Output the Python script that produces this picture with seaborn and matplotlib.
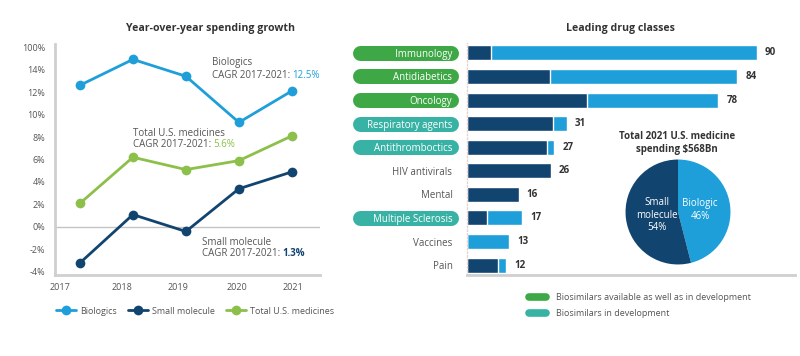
import numpy as np
import pandas as pd
import matplotlib
matplotlib.use('Agg')
import matplotlib.pyplot as plt
from matplotlib import transforms
from matplotlib.lines import Line2D
import seaborn as sns

# left panel: year-over-year spending growth (%)
years = [2017, 2018, 2019, 2020, 2021]
biologics = [12.6, 14.9, 13.4, 9.3, 12.1]
small_molecule = [-3.2, 1.1, -0.4, 3.4, 4.9]
total_medicines = [2.1, 6.2, 5.1, 5.9, 8.1]
series_names = ['Biologics', 'Small molecule', 'Total U.S. medicines']
ytick_values = [-4, -2, 0, 2, 4, 6, 8, 10, 12, 14, 16]
ytick_labels = ['-4%', '-2%', '0%', '2%', '4%', '6%', '8%', '10%', '12%', '14%', '100%']
cagr_values = ['12.5%', '1.3%', '5.6%']

# right panel: leading drug classes (US$ Bn)
drug_classes = ['Immunology', 'Antidiabetics', 'Oncology', 'Respiratory agents',
                'Antithromboctics', 'HIV antivirals', 'Mental', 'Multiple Sclerosis',
                'Vaccines', 'Pain']
class_totals = [90, 84, 78, 31, 27, 26, 16, 17, 13, 12]
class_small = [7.4, 25.8, 37.2, 26.6, 24.7, 26, 16, 6.1, 0, 9.7]
biosimilar_status = ['available', 'available', 'available', 'development', 'development',
                     None, None, 'development', None, None]
status_labels = {'available': 'Biosimilars available as well as in development',
                 'development': 'Biosimilars in development'}

# pie: total 2021 U.S. medicine spending
pie_names = ['Biologic', 'Small\nmolecule']
pie_shares = [46, 54]

LIGHT = '#1e9fd9'
DARK = '#124470'
LGREEN = '#8cc04a'
PILL = {'available': '#3ea846', 'development': '#37b2a4'}
AXIS = '#cfcfcf'
TEXT = '#555555'
TITLE = '#333333'


def main():
    sns.set_theme(style='white')
    plt.rcParams['font.family'] = ['Open Sans', 'DejaVu Sans']

    fig = plt.figure(figsize=(8, 3.56), dpi=100)
    growth_panel(fig)
    drug_panel(fig)
    pie_panel(fig)
    fig.savefig('out.png', dpi=100)


def px(x, y):
    """pixel position in the 800x356 picture -> figure fraction"""
    return x / 800, 1 - y / 356


def growth_panel(fig):
    ax = fig.add_axes([55 / 800, 1 - 275 / 356, 265 / 800, 231 / 356])
    df = pd.DataFrame({
        'year': years * 3,
        'growth': biologics + small_molecule + total_medicines,
        'series': np.repeat(series_names, len(years)),
    })
    palette = dict(zip(series_names, [LIGHT, DARK, LGREEN]))
    sns.lineplot(data=df, x='year', y='growth', hue='series', palette=palette,
                 marker='o', markersize=7, markeredgewidth=0, linewidth=2,
                 legend=False, ax=ax)
    ax.axhline(0, color='#c4c4c4', lw=1, zorder=0)

    ax.set_xlim(2016.53, 2021.53)
    ax.set_ylim(-4.27, 16.27)
    # the year labels sit a little left of the points in the original
    ax.set_xticks([2016.62, 2017.79, 2018.85, 2019.96, 2021.02])
    ax.set_xticklabels([str(y) for y in years])
    ax.set_yticks(ytick_values)
    ax.set_yticklabels(ytick_labels)
    ax.set_xlabel('')
    ax.set_ylabel('')
    ax.tick_params(length=0, labelsize=6.5, colors=TEXT)
    ax.tick_params(axis='y', pad=7)
    ax.tick_params(axis='x', pad=6)
    for side in ['top', 'right']:
        ax.spines[side].set_visible(False)
    for side in ['left', 'bottom']:
        ax.spines[side].set_color(AXIS)
        ax.spines[side].set_linewidth(2)

    # CAGR notes
    notes = [('Biologics', 2019.49, 14.65, 13.49, LIGHT, 'normal'),
             ('Small molecule', 2019.30, -1.41, -2.36, DARK, 'bold'),
             ('Total U.S. medicines', 2018.0, 8.34, 7.36, LGREEN, 'normal')]
    for (name, x, y1, y2, color, weight), value in zip(notes, cagr_values):
        ax.text(x, y1, name, fontsize=7, color=TEXT, va='center')
        t = ax.text(x, y2, 'CAGR 2017-2021: ', fontsize=7, color=TEXT, va='center')
        ax.annotate(value, xy=(1, 0), xycoords=t, va='bottom', ha='left',
                    fontsize=7, color=color, fontweight=weight)

    fig.text(*px(210, 29), 'Year-over-year spending growth', ha='center', va='center',
             fontsize=7.6, fontweight='bold', color=TITLE)

    handles = [Line2D([], [], color=c, lw=2, marker='o', markersize=7, markeredgewidth=0)
               for c in [LIGHT, DARK, LGREEN]]
    fig.legend(handles, series_names, loc='center', bbox_to_anchor=px(195, 311),
               ncol=3, frameon=False, fontsize=6.5, labelcolor=TEXT,
               handlelength=2.2, handletextpad=0.5, columnspacing=1.2)


def drug_panel(fig):
    ax = fig.add_axes([467 / 800, 1 - 275 / 356, 328 / 800, 232 / 356])
    sns.barplot(x=class_totals, y=drug_classes, color=LIGHT, orient='h', width=0.64,
                saturation=1, ax=ax)
    sns.barplot(x=class_small, y=drug_classes, color=DARK, orient='h', width=0.64,
                saturation=1, ax=ax)
    ax.set_xlim(0, 101.9)
    ax.set_ylim(9.42, -0.42)
    ax.set_xticks([])
    ax.set_xlabel('')
    ax.set_ylabel('')
    ax.tick_params(axis='y', length=0, pad=10.5, labelsize=7)

    for i, v in enumerate(class_totals):
        ax.annotate(str(v), xy=(v, i), xytext=(6, 0), textcoords='offset points',
                    va='center', ha='left', fontsize=7, fontweight='bold', color=TITLE)

    # pills behind the class names (axis is drawn at zorder 0.5 in this style)
    blend = transforms.blended_transform_factory(ax.transAxes, ax.transData)
    for i, (label, status) in enumerate(zip(ax.get_yticklabels(), biosimilar_status)):
        if status is None:
            label.set_color(TEXT)
            continue
        label.set_color('white')
        ax.add_line(Line2D([-0.325, -0.0503], [i, i], lw=10.8, color=PILL[status],
                           solid_capstyle='round', transform=blend, clip_on=False,
                           zorder=0.2))

    for side in ['top', 'right']:
        ax.spines[side].set_visible(False)
    ax.spines['bottom'].set_color(AXIS)
    ax.spines['bottom'].set_linewidth(2)
    ax.spines['left'].set_color('#e6d3d3')
    ax.spines['left'].set_linewidth(1)
    ax.spines['left'].set_linestyle(':')

    fig.text(*px(620, 29), 'Leading drug classes', ha='center', va='center',
             fontsize=7.6, fontweight='bold', color=TITLE)

    # biosimilar legend
    for (status, text), y in zip(status_labels.items(), [297, 313]):
        x0, y0 = px(529, y)
        x1, _ = px(546, y)
        fig.add_artist(Line2D([x0, x1], [y0, y0], lw=5.5, color=PILL[status],
                              solid_capstyle='round', transform=fig.transFigure))
        fig.text(*px(556, y), text, ha='left', va='center', fontsize=6.5, color=TEXT)


def pie_panel(fig):
    r = 53
    cx, cy = 678, 212
    ax = fig.add_axes([(cx - r) / 800, 1 - (cy + r) / 356, 2 * r / 800, 2 * r / 356])
    ax.pie(pie_shares, colors=[LIGHT, DARK], startangle=90, counterclock=False,
           wedgeprops=dict(linewidth=0))
    ax.set_xlim(-1.01, 1.01)
    ax.set_ylim(-1.01, 1.01)
    for name, share, pos in zip(pie_names, pie_shares, [(0.42, 0.04), (-0.40, -0.06)]):
        ax.text(*pos, f'{name}\n{share}%', ha='center', va='center', color='white',
                fontsize=7, linespacing=1.15)

    fig.text(*px(677, 143), 'Total 2021 U.S. medicine\nspending \\$568Bn', ha='center',
             va='center', fontsize=7, fontweight='bold', color=TITLE, linespacing=1.25)


if __name__ == '__main__':
    main()
